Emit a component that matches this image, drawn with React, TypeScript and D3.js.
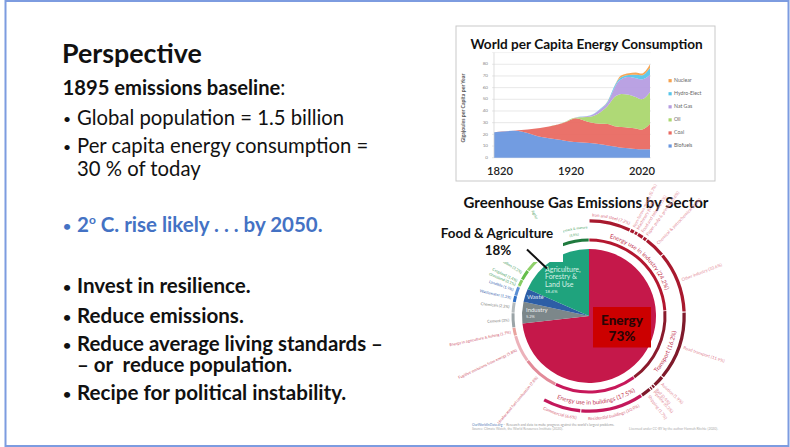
import * as d3 from 'd3';

// ---------- world per capita energy (GJ per capita per year), stacked layers ----------
const YEARS = [1810, 1840, 1875, 1900, 1910, 1920, 1925, 1945, 1960, 1970, 1980, 1985, 1990, 2000, 2010, 2018, 2030];
const BIOFUELS = [21.7, 23, 18, 15.5, 14.5, 13.7, 13.5, 12.5, 11.5, 10.5, 9.5, 9, 8.6, 8, 7.4, 7.2, 7.2];
const COAL = [0, 0.2, 7.5, 12.9, 15.8, 19.3, 20.2, 17.8, 17.5, 18.3, 17.5, 17.6, 17.6, 17.7, 17.6, 16.8, 21.8];
const OIL = [0, 0, 0, 0, 0.2, 0.5, 0.6, 4.7, 10, 15.2, 25, 27.1, 28.3, 28.3, 27, 26, 27];
const NAT_GAS = [0, 0, 0, 0, 0, 0, 0.2, 1, 2.5, 3, 8, 11.3, 13, 15, 16, 17, 15];
const HYDRO = [0, 0, 0, 0, 0, 0, 0, 0.2, 0.5, 1, 1.5, 1.5, 1.5, 1.8, 3, 3.5, 6];
const NUCLEAR = [0, 0, 0, 0, 0, 0, 0, 0, 0, 0.2, 0.2, 1, 1.5, 1.5, 2, 1.5, 3];

const SOURCE_KEYS = ['Biofuels', 'Coal', 'Oil', 'Nat Gas', 'Hydro-Elect', 'Nuclear'];
const SOURCE_VALUES = [BIOFUELS, COAL, OIL, NAT_GAS, HYDRO, NUCLEAR];
const SOURCE_COLORS = ['#6a97df', '#e96a62', '#abd76f', '#b69de1', '#58c5ea', '#f6a24f'];
const Y_TICKS = [0, 10, 20, 30, 40, 50, 60, 70, 80];
const X_TICKS = [1820, 1920, 2020];

// ---------- greenhouse gas emissions by sector (% of total) ----------
const SECTORS = ['Energy', 'Industry', 'Waste', 'Agriculture, Forestry & Land Use'];
const SECTOR_SHARES = [73.2, 5.2, 3.2, 18.4];
const SECTOR_COLORS = ['#c5184a', '#7c878a', '#2d5ea6', '#1fa37d'];

const SUBSECTORS = [
    'Energy use in industry', 'Transport', 'Energy use in buildings', 'Unallocated fuel combustion',
    'Fugitive emissions from energy', 'Energy in agriculture & fishing', 'Cement', 'Chemicals',
    'Wastewater', 'Landfills', 'Grassland', 'Cropland', 'Deforestation', 'Crop burning',
    'Rice cultivation', 'Agricultural soils', 'Livestock & manure',
];
const SUBSECTOR_SHARES = [24.2, 16.2, 17.5, 7.8, 5.8, 1.7, 3, 2.2, 1.3, 1.9, 0.1, 1.4, 2.2, 3.5, 1.3, 4.1, 5.8];
const SUBSECTOR_GROUP = [0, 0, 0, 0, 0, 0, 1, 1, 2, 2, 3, 3, 3, 3, 3, 3, 3];
const SUBSECTOR_COLORS = [
    '#b3172f', '#8a1b2c', '#c7185a', '#e28b99', '#ecb2ba', '#e9a39e', '#9ba4a7', '#b5bbbd',
    '#2f6fc6', '#5b8fd4', '#a3d87e', '#86cc62', '#64be4c', '#8fd06a', '#70c352', '#3ea54b', '#1f7a3e',
];

const END_USES = [
    'Iron and steel', 'Non-ferous metals', 'Machinery', 'Food and tobacco', 'Paper, pulp & printing',
    'Chemical & petrochemical', 'Other industry', 'Road transport', 'Aviation', 'Rail', 'Pipeline',
    'Shipping', 'Residential buildings', 'Commercial',
];
const END_USE_SHARES = [7.2, 0.7, 0.5, 1, 0.6, 3.6, 10.6, 11.9, 1.9, 0.4, 0.3, 1.7, 10.9, 6.6];
const END_USE_COLORS = [
    '#a8192e', '#a8192e', '#a8192e', '#a8192e', '#a8192e', '#a8192e', '#a8192e',
    '#7f1a2b', '#7f1a2b', '#7f1a2b', '#7f1a2b', '#7f1a2b', '#c3185b', '#c3185b',
];

const GROUP_LABEL_COLORS = ['#d0586c', '#7a7a7a', '#3a68b0', '#3f9c5a'];

const FONT = 'Lato, "Open Sans", sans-serif';

// pie geometry
const CX = 589;
const CY = 316;
const R_PIE = 67;
const R_IN = [74.5, 77.5];
const R_OUT = [93.5, 96.8];

const pt = (r: number, a: number) => [CX + r * Math.sin(a), CY - r * Math.cos(a)];

const isBottom = (mid: number) => mid > Math.PI / 2 && mid < (3 * Math.PI) / 2;

// arc used as a text path, centred on angle "mid"; goes the other way round on the bottom half
const textArc = (r: number, mid: number, span: number) => {
    const bottom = isBottom(mid);
    const a0 = bottom ? mid + span : mid - span;
    const a1 = bottom ? mid - span : mid + span;
    const p0 = pt(r, a0);
    const p1 = pt(r, a1);
    return `M${p0[0]},${p0[1]}A${r},${r} 0 0 ${bottom ? 0 : 1} ${p1[0]},${p1[1]}`;
};

const RadialLabel = ({ r, a, text, color, size }: any) => {
    const [x, y] = pt(r, a);
    const deg = (a * 180) / Math.PI - 90;
    const flip = a > Math.PI;
    return (
        <text
            transform={`translate(${x},${y}) rotate(${flip ? deg + 180 : deg})`}
            textAnchor={flip ? 'end' : 'start'}
            dominantBaseline="middle"
            fontSize={size}
            fill={color}
            fontFamily={FONT}
        >
            {text}
        </text>
    );
};

const EnergyChart = () => {
    const x = d3.scaleLinear().domain([1810, 2030]).range([494, 650]);
    const y = d3.scaleLinear().domain([0, 90]).range([157.7, 52.6]);

    const rows = YEARS.map((yr, i) => {
        const row: any = { year: yr };
        SOURCE_KEYS.forEach((k, j) => (row[k] = SOURCE_VALUES[j][i]));
        return row;
    });
    const series = d3.stack().keys(SOURCE_KEYS)(rows);
    const area = d3
        .area<any>()
        .x((d) => x(d.data.year))
        .y0((d) => y(d[0]))
        .y1((d) => y(d[1]))
        .curve(d3.curveMonotoneX);

    const legendY = d3.scalePoint().domain([...SOURCE_KEYS].reverse()).range([80.7, 146]);

    return (
        <g fontFamily={FONT}>
            <rect x={456} y={26} width={259} height={155} fill="#fff" stroke="#c9c9c9" strokeWidth={1} />
            <text x={586.5} y={48.5} textAnchor="middle" fontSize={13.6} fontWeight={700} fill="#111">
                World per Capita Energy Consumption
            </text>
            <line x1={492} x2={651} y1={y(90)} y2={y(90)} stroke="#ececec" strokeWidth={0.7} />
            {Y_TICKS.map((t) => (
                <g key={t}>
                    <line x1={492} x2={651} y1={y(t)} y2={y(t)} stroke="#dedede" strokeWidth={0.7} />
                    <text x={488} y={y(t)} textAnchor="end" dominantBaseline="middle" fontSize={4.6} fill="#888">
                        {t}
                    </text>
                </g>
            ))}
            {series.map((s, i) => (
                <path key={s.key} d={area(s) ?? ''} fill={SOURCE_COLORS[i]} opacity={0.95} />
            ))}
            <line x1={494} x2={494} y1={y(90)} y2={y(0)} stroke="#d0d0d0" strokeWidth={0.7} />
            {X_TICKS.map((t) => (
                <text key={t} x={x(t) - 1} y={175} textAnchor="middle" fontSize={11.2} fontWeight={600} fill="#222">
                    {t}
                </text>
            ))}
            <text
                transform={`translate(465,${(y(0) + y(85)) / 2}) rotate(-90)`}
                textAnchor="middle"
                fontSize={5.2}
                fontWeight={700}
                fill="#555"
            >
                Gigajoules per Capita per Year
            </text>
            {SOURCE_KEYS.map((k, i) => (
                <g key={k}>
                    <rect x={668.5} y={(legendY(k) ?? 0) - 1.6} width={3.2} height={3.2} fill={SOURCE_COLORS[i]} />
                    <text x={674} y={legendY(k)} dominantBaseline="middle" fontSize={5.2} fill="#666">
                        {k}
                    </text>
                </g>
            ))}
        </g>
    );
};

const SectorChart = () => {
    const total = d3.sum(SECTOR_SHARES);
    const sectorPie = d3.pie<number>().sort(null).value((d) => d)(SECTOR_SHARES);
    const subPie = d3.pie<number>().sort(null).value((d) => d).padAngle(0.006)(SUBSECTOR_SHARES);
    const endPie = d3
        .pie<number>()
        .sort(null)
        .value((d) => d)
        .padAngle(0.008)
        .endAngle((2 * Math.PI * d3.sum(END_USE_SHARES)) / total)(END_USE_SHARES);

    const pieArc = d3.arc<any>().innerRadius(0).outerRadius(R_PIE);
    const inArc = d3.arc<any>().innerRadius(R_IN[0]).outerRadius(R_IN[1]);
    const outArc = d3.arc<any>().innerRadius(R_OUT[0]).outerRadius(R_OUT[1]);

    const pct = (v: number) => `(${v}%)`;

    return (
        <g fontFamily={FONT}>
            <text x={586} y={208.3} textAnchor="middle" fontSize={15} fontWeight={700} fill="#111">
                Greenhouse Gas Emissions by Sector
            </text>

            <g transform={`translate(${CX},${CY})`}>
                {sectorPie.map((d, i) => (
                    <path key={SECTORS[i]} d={pieArc(d) ?? ''} fill={SECTOR_COLORS[i]} />
                ))}
                {subPie.map((d, i) => (
                    <path key={SUBSECTORS[i]} d={inArc(d) ?? ''} fill={SUBSECTOR_COLORS[i]} />
                ))}
                {endPie.map((d, i) => (
                    <path key={END_USES[i]} d={outArc(d) ?? ''} fill={END_USE_COLORS[i]} />
                ))}
            </g>

            {/* sub-sector labels */}
            {subPie.map((d, i) => {
                const mid = (d.startAngle + d.endAngle) / 2;
                const color = GROUP_LABEL_COLORS[SUBSECTOR_GROUP[i]];
                const label = `${SUBSECTORS[i]} ${pct(SUBSECTOR_SHARES[i])}`;
                const nearTop = mid > (2 * Math.PI * 340) / 360;
                if (SUBSECTOR_SHARES[i] >= 10) {
                    const bottom = isBottom(mid);
                    return (
                        <g key={i}>
                            <path id={`sub${i}`} d={textArc(bottom ? 88.5 : 80.5, mid, 1.2)} fill="none" />
                            <text fontSize={6} fill="#c23450" fontFamily={FONT}>
                                <textPath href={`#sub${i}`} startOffset="50%" textAnchor="middle">
                                    {label}
                                </textPath>
                            </text>
                        </g>
                    );
                }
                if (nearTop) {
                    return (
                        <g key={i}>
                            <path id={`subA${i}`} d={textArc(87.5, mid, 0.6)} fill="none" />
                            <path id={`subB${i}`} d={textArc(81.2, mid, 0.6)} fill="none" />
                            <text fontSize={3.3} fill={color}>
                                <textPath href={`#subA${i}`} startOffset="50%" textAnchor="middle">
                                    {SUBSECTORS[i]}
                                </textPath>
                            </text>
                            <text fontSize={3.3} fill={color}>
                                <textPath href={`#subB${i}`} startOffset="50%" textAnchor="middle">
                                    {pct(SUBSECTOR_SHARES[i])}
                                </textPath>
                            </text>
                        </g>
                    );
                }
                return <RadialLabel key={i} r={80} a={mid} text={label} color={color} size={3.9} />;
            })}

            {/* end-use labels */}
            {endPie.map((d, i) => {
                const mid = (d.startAngle + d.endAngle) / 2;
                const label = `${END_USES[i]} ${pct(END_USE_SHARES[i])}`;
                if (END_USE_SHARES[i] >= 5 && (mid < 0.6 || (isBottom(mid) && mid > 2.6))) {
                    const bottom = isBottom(mid);
                    return (
                        <g key={i}>
                            <path id={`end${i}`} d={textArc(bottom ? 104 : 99.5, mid, 1)} fill="none" />
                            <text fontSize={4.3} fill="#d66478">
                                <textPath href={`#end${i}`} startOffset="50%" textAnchor="middle">
                                    {label}
                                </textPath>
                            </text>
                        </g>
                    );
                }
                return <RadialLabel key={i} r={99.5} a={mid} text={label} color="#df8796" size={4.3} />;
            })}

            {/* slice labels */}
            <g fill="#d9f1e6" fontSize={7}>
                <text x={545} y={271.7}>Agriculture,</text>
                <text x={545} y={279.3}>Forestry &amp;</text>
                <text x={545} y={286.7}>Land Use</text>
                <text x={545} y={292.7} fontSize={4.5}>18.4%</text>
            </g>
            <g fill="#dfe6f2" fontSize={6}>
                <text x={527} y={299}>Waste</text>
            </g>
            <g fill="#eceeee" fontSize={6}>
                <text x={526} y={312}>Industry</text>
                <text x={526} y={317.5} fontSize={4}>5.2%</text>
            </g>

            {/* callouts added on the slide */}
            <rect x={436} y={219} width={127} height={43} fill="#fff" />
            <line x1={527} y1={249.5} x2={547} y2={268.5} stroke="#111" strokeWidth={2} />
            <text x={497} y={238.3} textAnchor="middle" fontSize={13.4} fontWeight={700} fill="#111">
                Food &amp; Agriculture
            </text>
            <text x={498} y={255} textAnchor="middle" fontSize={13.4} fontWeight={700} fill="#111">
                18%
            </text>

            <rect x={593} y={307} width={58} height={40.5} fill="#cc0000" />
            <text x={622} y={325} textAnchor="middle" fontSize={13.5} fontWeight={900} fill="#2a0505">
                Energy
            </text>
            <text x={622} y={341} textAnchor="middle" fontSize={13.5} fontWeight={900} fill="#2a0505">
                73%
            </text>

            <g fontSize={3.4}>
                <text x={472} y={425.5} fill="#5b7fb8">
                    OurWorldInData.org
                    <tspan fill="#999"> – Research and data to make progress against the world’s largest problems.</tspan>
                </text>
                <text x={472} y={429.8} fill="#aaa">
                    Source: Climate Watch, the World Resources Institute (2020).
                </text>
                <text x={718} y={429.8} textAnchor="end" fill="#aaa">
                    Licensed under CC-BY by the author Hannah Ritchie (2020).
                </text>
            </g>
        </g>
    );
};

const Bullet = ({ y, color = '#111', bold = false, size = 20.3, children }: any) => (
    <g fontFamily={FONT} fill={color} fontWeight={bold ? 700 : 400}>
        <text x={63} y={y - 1} fontSize={14}>•</text>
        <text x={77} y={y} fontSize={size}>{children}</text>
    </g>
);

export default function App() {
    return (
        <div style={{ position: 'fixed', left: 0, top: 0 }}>
            <svg width={790} height={447} style={{ display: 'block', background: '#fff' }}>
                <rect x={5.5} y={1} width={783} height={445} fill="#fff" stroke="#7d9ce0" strokeWidth={2} />

                <g fontFamily={FONT} fill="#111">
                    <text x={62} y={63} fontSize={26.8} fontWeight={700}>Perspective</text>
                    <text x={62.5} y={95} fontSize={20.2} fontWeight={700}>
                        1895 emissions baseline<tspan fontWeight={400}>:</tspan>
                    </text>
                </g>
                <Bullet y={125}>Global population = 1.5 billion</Bullet>
                <Bullet y={153}>Per capita energy consumption =</Bullet>
                <text x={77} y={176} fontSize={20.3} fontFamily={FONT} fill="#111">30 % of today</text>

                <Bullet y={232} color="#4472c4" bold size={20.5}>
                    2<tspan fontSize={12} dy={-8}>o</tspan>
                    <tspan dy={8}> C. rise likely . . . by 2050.</tspan>
                </Bullet>

                <Bullet y={293.3} bold size={20.6}>Invest in resilience.</Bullet>
                <Bullet y={322.7} bold size={20.6}>Reduce emissions.</Bullet>
                <Bullet y={351.2} bold size={20.4}>Reduce average living standards –</Bullet>
                <text x={77} y={372} fontSize={20.4} fontWeight={700} fontFamily={FONT} fill="#111" xmlSpace="preserve">
                    – or  reduce population.
                </text>
                <Bullet y={400} bold size={20.6}>Recipe for political instability.</Bullet>

                <EnergyChart />
                <SectorChart />
            </svg>
        </div>
    );
}
